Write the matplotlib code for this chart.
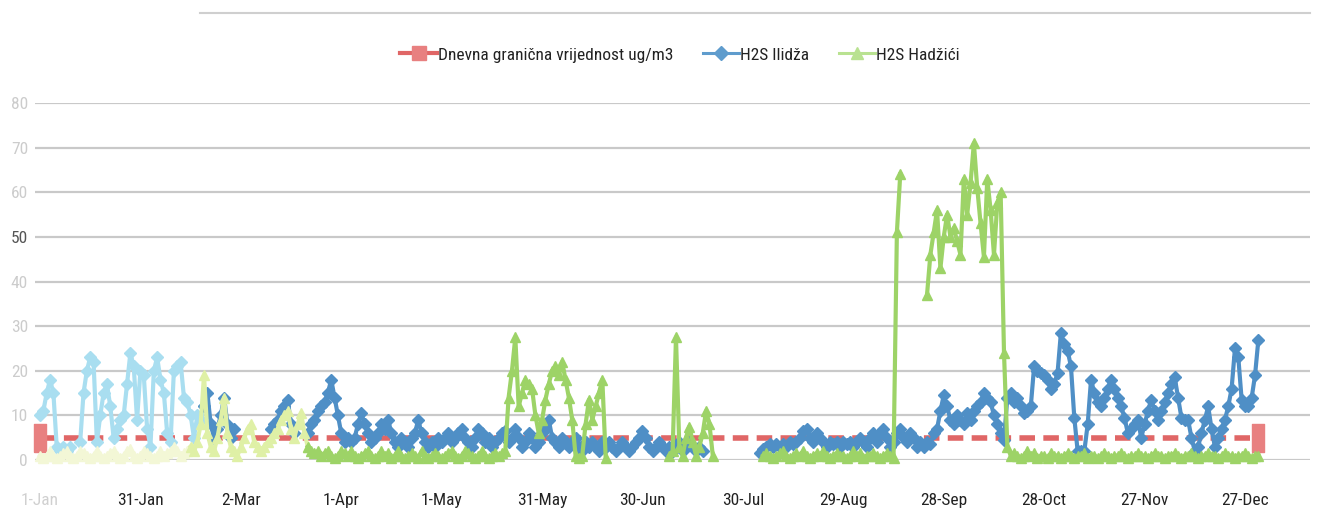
import numpy as np
import matplotlib
matplotlib.use("Agg")
import matplotlib.pyplot as plt
from matplotlib.lines import Line2D
from matplotlib import font_manager

_avail = {f.name for f in font_manager.fontManager.ttflist}
_fams = [f for f in ['Roboto Condensed', 'Liberation Sans Narrow', 'Open Sans Condensed',
                     'Lato', 'DejaVu Sans'] if f in _avail] or ['DejaVu Sans']
plt.rcParams['font.family'] = _fams + ['DejaVu Sans']
NARROW = _fams[0] in ('Roboto Condensed', 'Liberation Sans Narrow', 'Open Sans Condensed')

# ---------------- data ----------------
tick_days = [0, 30, 60, 90, 120, 150, 180, 210, 240, 270, 300, 330, 360]
tick_labels = ['1-Jan', '31-Jan', '2-Mar', '1-Apr', '1-May', '31-May', '30-Jun',
               '30-Jul', '29-Aug', '28-Sep', '28-Oct', '27-Nov', '27-Dec']
y_ticks = [0, 10, 20, 30, 40, 50, 60, 70, 80]

series_names = ['Dnevna granična vrijednost ug/m3', 'H2S Ilidža', 'H2S Hadžići']

limit_days = [0, 364]
limit_values = [5, 5]

N = None
ilidza = [
    10, 11, 15, 18, 15, 3, 2, 3, 2, 3,              # 0-9
    N, N, 4, 15, 20, 23, 22, 4, 10, 15,             # 10-19
    17, 12, 5, 7, 9, 10, 17, 24, 21, 9,             # 20-29
    20, 19, 7, 3, 20, 23, 18, 15, 6, 4,             # 30-39
    20, 21, 22, 14, 13, 10, 5, 10, 9, 12,           # 40-49
    15, 8, 5, 7, 10, 14, 8, 5, 7, N,                # 50-59
    N, N, N, N, N, N, N, N, N, 7,                   # 60-69
    8, 9, 11, 12, 13.5, 8, 6, N, N, N,              # 70-79
    6, 8, 9, 11, 12, 13, 15, 18, 14, 10,            # 80-89
    6, 4, 5, 4, 5, 8, 10.5, 8, 6, 4,                # 90-99
    5, 6, 8, 7, 9, 6, 4, 3, 5, 4,                   # 100-109
    3, 5, 6, 9, 6, 4, 3, 4, 3, 5,                   # 110-119
    4, 5, 6, 4, 5, 6, 7, 5, 4, 3,                   # 120-129
    5, 7, 6, 4, 5, 3, 4, 5, 6, 6.5,                 # 130-139
    4, 5, 7, 5, 3, 4, 6, 5, 3, 4,                   # 140-149
    6, 7, 9, 5, 4, 3, 5, 4, 3, 4,                   # 150-159
    5, 3, 2, 4, 3, 4, 3, 2, 4, 3,                   # 160-169
    4, 3, 2, 3, 4, 3, 2, 3, 4, 5,                   # 170-179
    6.5, 5, 3, 2, 3, 4, 3, 2, 3, 2,                 # 180-189
    3, 4, 2, 3, 4, 3, 2, 3, 2, N,                   # 190-199
    N, N, N, N, N, N, N, N, N, N,                   # 200-209
    N, N, N, N, N, 1.5, 2.5, 3, 3.5, 3,             # 210-219
    3.5, 3, 3.5, 3, 4, 3.5, 4, 5, 6.5, 7,           # 220-229
    5, 4, 6, 5, 4, 3, 4, 3.5, 4, 3,                 # 230-239
    4, 3.5, 4, 3, 4, 5, 4, 3, 5, 6,                 # 240-249
    4, 6, 7, 5, 3, 4, 6, 7, 5, 4,                   # 250-259
    6, 5, 3, 4, 3, 4, 3.5, 6, 7, 11,                # 260-269
    14.5, 12, 9, 8, 10, 9, 8, 10.5, 9, 11,          # 270-279
    12, 13, 15, 14, 13, 10, 8, 6, 4.5, 14,          # 280-289
    15, 13, 14, 12, 10.5, 11, 12, 21, 20, 19.5,     # 290-299
    19, 18, 16, 17, 19.5, 28.5, 26, 24.5, 21, 9.5,  # 300-309
    2, 2, 2, 8, 18, 15, 13, 12, 14, 16,             # 310-319
    18, 16, 14, 12, 9.5, 6, 7, 8, 9, 5,             # 320-329
    8, 11, 13.5, 11, 9, 11, 13, 15, 17, 18.5,       # 330-339
    14, 9.5, 9, 9, 5, 2, 3, 6, 9, 12,               # 340-349
    7, 3, 5, 7, 9, 12, 16, 25, 23, 13.5,            # 350-359
    12, 12, 14, 19, 27,                             # 360-364
]

hadzici = [
    1, 0.5, 1, 2, 1, 0.5, 1, 1.5, 2, 1,             # 0-9
    0.5, 1, 2, 1.5, 1, 0.5, 1, 2, 1, 0.5,           # 10-19
    1, 1.5, 2, 1, 0.5, 1, 2, 2.5, 1, 0.5,           # 20-29
    1, 2, 1.5, 1, 0.5, 1, 2, 1, 1.5, 2,             # 30-39
    3, 2, 1, 1.5, 2, 3, 2, 4, 8, 19,                # 40-49
    6, 3, 2, 5, 9, 14, 6, 3, 2, 1,                  # 50-59
    3, 5, 7, 8, 4, 3, 2, 3, 4, 5,                   # 60-69
    6, 7, 9, 10, 11, 7, 5, 8, 10.5, 6,              # 70-79
    3, 2, 1.5, 2, 1, 1.5, 2, 1, 0.5, 1,             # 80-89
    2, 1.5, 1, 2, 1, 0.5, 1, 1.5, 2, 1,             # 90-99
    0.5, 1, 2, 1, 1.5, 0.5, 1, 2, 1, 0.5,           # 100-109
    1, 1.5, 1, 0.5, 2, 1, 0.5, 1, 1.5, 1,           # 110-119
    0.5, 1, 1.5, 2, 1, 0.5, 1, 2, 1.5, 1,           # 120-129
    0.5, 1, 2, 1, 0.5, 1, 1.5, 1, 1.5, 2,           # 130-139
    14, 20, 27.5, 12, 15, 18, 17, 16, 10, 6,        # 140-149
    9, 13.5, 17, 20, 21, 19, 22, 18, 14, 9,         # 150-159
    1, 0.5, 1, 8, 13.5, 9, 12, 15, 18, 0.5,         # 160-169
    N, N, N, N, N, N, N, N, N, N,                   # 170-179
    N, N, N, N, N, N, N, N, 1, 2,                   # 180-189
    27.5, 3, 1, 5, 7.5, 4, 1, 3, 6, 11,             # 190-199
    8, 1, N, N, N, N, N, N, N, N,                   # 200-209
    N, N, N, N, N, N, 1, 1.5, 1, 0.5,               # 210-219
    1, 1.5, 2, 1, 0.5, 1, 1.5, 1, 2, 1,             # 220-229
    0.5, 1, 1.5, 1, 2, 1, 0.5, 1, 1.5, 1,           # 230-239
    1, 0.5, 1, 2, 1, 1.5, 0.5, 1, 1, 1.5,           # 240-249
    1, 0.5, 1, 1.5, 1, 0.5, 51, 64, N, N,           # 250-259
    N, N, N, N, N, 37, 46, 51, 56, 43,              # 260-269
    50, 55, 50, 52, 49, 46, 63, 55, 62, 71,         # 270-279
    61, 53, 45.5, 63, 56, 46, 57.5, 60, 24, 3,      # 280-289
    1, 1.5, 1, 0.5, 1, 2, 1, 1.5, 0.5, 1,           # 290-299
    1, 0.5, 1.5, 1, 1, 0.5, 1, 1.5, 1, 0.5,         # 300-309
    1, 1, 1.5, 0.5, 1, 1, 0.5, 1, 1.5, 1,           # 310-319
    0.5, 1, 1, 1.5, 1, 0.5, 1, 1, 1.5, 1,           # 320-329
    1, 0.5, 1, 1.5, 1, 1, 0.5, 1, 1, 1.5,           # 330-339
    1, 0.5, 1, 1, 1.5, 1, 0.5, 1, 1, 1.5,           # 340-349
    1, 1, 0.5, 1, 1.5, 1, 1, 0.5, 1, 1,             # 350-359
    1.5, 1, 0.5, 1, 1,                              # 360-364
]

# ---------------- figure ----------------
W, H = 1333, 526
fig = plt.figure(figsize=(W / 100, H / 100), dpi=100)
fig.patch.set_facecolor('white')

ax_left, ax_right = 35, 1310
ax_top, ax_bottom = 103, 460
ax = fig.add_axes([ax_left / W, 1 - ax_bottom / H,
                   (ax_right - ax_left) / W, (ax_bottom - ax_top) / H])

px_per_day = (1245 - 40) / 360.0
ax.set_xlim(-(40 - ax_left) / px_per_day, (ax_right - 40) / px_per_day)
ax.set_ylim(0, 80)

days = np.arange(len(ilidza))
il = np.array([np.nan if v is None else v for v in ilidza], dtype=float)
hd = np.array([np.nan if v is None else v for v in hadzici], dtype=float)

for yv in y_ticks:
    ax.axhline(yv, color='#c9c9c9', lw=1.6, zorder=1)

# limit line (red dashed with end markers)
rect = [(-0.45, -1), (0.45, -1), (0.45, 1), (-0.45, 1), (-0.45, -1)]
ax.plot(limit_days, limit_values, color='#e06666', lw=4, dashes=(2.8, 1.5),
        marker=rect, markersize=20, markerfacecolor='#e88080',
        markeredgecolor='#e88080', zorder=3, clip_on=False)

# Ilidža (faded early part as in the scan)
blue_kw = dict(lw=3, marker='D', markersize=6.5, zorder=4, clip_on=False)
ax.plot(days[:50], il[:50], color='#a9def0', markerfacecolor='#a9def0',
        markeredgecolor='#a9def0', **blue_kw)
ax.plot(days[49:], il[49:], color='#4f8fc6', markerfacecolor='#4f8fc6',
        markeredgecolor='#4f8fc6', **blue_kw)

# Hadžići
green_kw = dict(lw=3, marker='^', markersize=7.5, zorder=5, clip_on=False)
ax.plot(days[:46], hd[:46], color='#f3f7d6', markerfacecolor='#f3f7d6',
        markeredgecolor='#f3f7d6', **green_kw)
ax.plot(days[45:81], hd[45:81], color='#dff0a6', markerfacecolor='#dff0a6',
        markeredgecolor='#dff0a6', **green_kw)
ax.plot(days[80:], hd[80:], color='#9dd367', markerfacecolor='#9dd367',
        markeredgecolor='#9dd367', **green_kw)

for s in ax.spines.values():
    s.set_visible(False)

fs = 12.5 if NARROW else 11
ax.set_xticks(tick_days)
ax.set_xticklabels(tick_labels, fontsize=fs, color='#222222')
ax.get_xticklabels()[0].set_color('#d0d0d0')
ax.set_yticks(y_ticks)
ax.set_yticklabels([str(v) for v in y_ticks], fontsize=fs, color='#cccccc')
for lab, v in zip(ax.get_yticklabels(), y_ticks):
    if v == 50:
        lab.set_color('#555555')
ax.tick_params(axis='x', length=0, pad=24)
ax.tick_params(axis='y', length=0, pad=5)

# legend
handles = [
    Line2D([], [], color='#e06666', lw=3, marker='s', markersize=10,
           markerfacecolor='#e88080', markeredgecolor='#e88080'),
    Line2D([], [], color='#5f9ccd', lw=2.2, marker='D', markersize=7,
           markerfacecolor='#5f9ccd', markeredgecolor='#5f9ccd'),
    Line2D([], [], color='#b9e291', lw=2.2, marker='^', markersize=8,
           markerfacecolor='#b9e291', markeredgecolor='#b9e291'),
]
fig.legend(handles, series_names, loc='center', bbox_to_anchor=(680 / W, 1 - 55 / H),
           ncol=3, frameon=False, fontsize=fs, handlelength=2.1,
           handletextpad=0.05, columnspacing=1.7, labelcolor='#222222')

# faint line at the top of the scan
fig.add_artist(Line2D([200 / W, 1310 / W], [1 - 13 / H, 1 - 13 / H],
                      color='#cfcfcf', lw=1.5))

fig.savefig('out.png', dpi=100, facecolor='white')
